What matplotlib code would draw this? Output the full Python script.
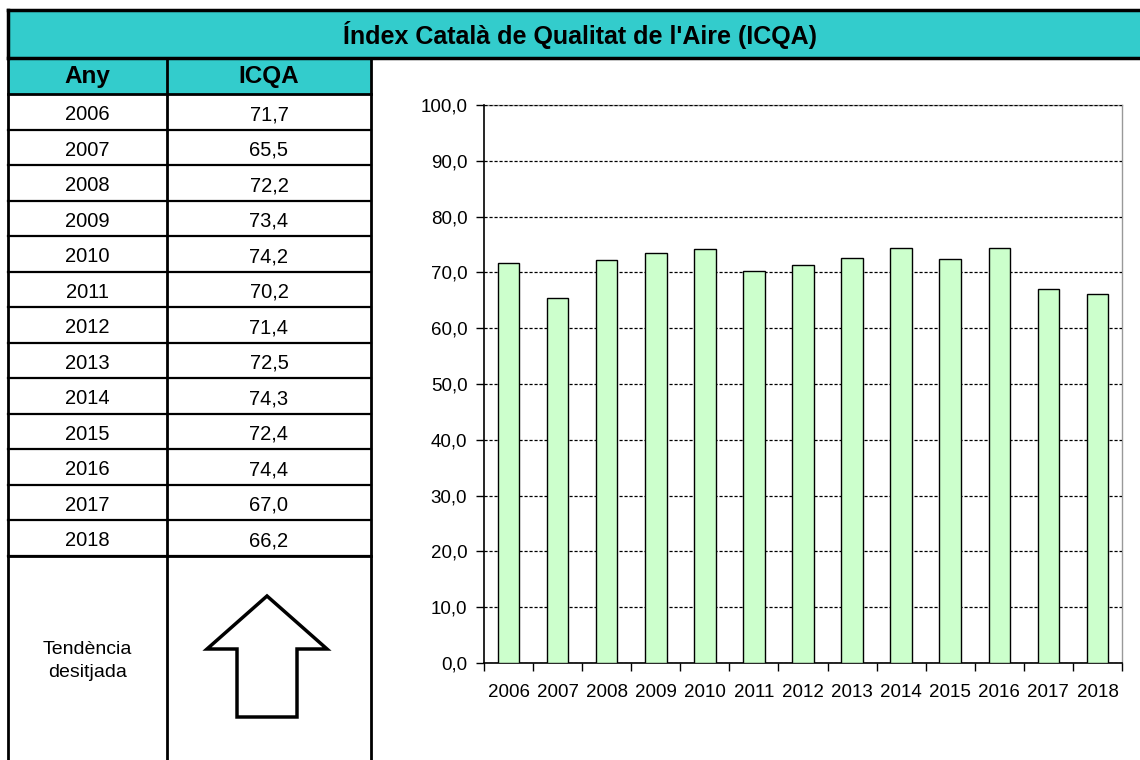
import matplotlib
matplotlib.use("Agg")
from matplotlib import pyplot as plt
from matplotlib.patches import Rectangle, Polygon
from matplotlib.ticker import FuncFormatter, MultipleLocator

plt.rcParams['font.family'] = ['Liberation Sans', 'DejaVu Sans']

anys = [2006, 2007, 2008, 2009, 2010, 2011, 2012, 2013, 2014, 2015, 2016, 2017, 2018]
icqa = [71.7, 65.5, 72.2, 73.4, 74.2, 70.2, 71.4, 72.5, 74.3, 72.4, 74.4, 67.0, 66.2]
titol = "Índex Català de Qualitat de l'Aire (ICQA)"
capcalera = ["Any", "ICQA"]
tendencia = "Tendència\ndesitjada"

W, H = 1140, 760
teal = "#33CCCC"

fig = plt.figure(figsize=(W / 100, H / 100), dpi=100)

# background layer in pixel coordinates for the table part
bg = fig.add_axes([0, 0, 1, 1])
bg.set_xlim(0, W)
bg.set_ylim(H, 0)
bg.axis("off")

def px_line(x0, y0, x1, y1, lw=2.0, color="black"):
    bg.plot([x0, x1], [y0, y1], color=color, lw=lw, solid_capstyle="projecting")

# title bar
bg.add_patch(Rectangle((8, 10), W, 48, facecolor=teal, edgecolor="none"))
px_line(8, 10, W, 10, lw=2.5)
px_line(8, 58, W, 58, lw=2.5)
px_line(8, 10, 8, 58, lw=2.5)
bg.text(580, 35, titol, ha="center", va="center", fontsize=18, fontweight="bold")

# table
c0, c1, c2 = 8, 167, 371
top, row_h = 58, 35.5
bg.add_patch(Rectangle((c0, top), c2 - c0, 36, facecolor=teal, edgecolor="none"))
bg.text((c0 + c1) / 2, top + 19, capcalera[0], ha="center", va="center", fontsize=17.5, fontweight="bold")
bg.text((c1 + c2) / 2, top + 19, capcalera[1], ha="center", va="center", fontsize=17.5, fontweight="bold")

y = top + 36
px_line(c0, y, c2, y)
for a, v in zip(anys, icqa):
    yc = y + row_h / 2
    bg.text((c0 + c1) / 2, yc + 3, str(a), ha="center", va="center", fontsize=14.5)
    bg.text((c1 + c2) / 2, yc + 3, f"{v:.1f}".replace(".", ","), ha="center", va="center", fontsize=14.5)
    y += row_h
    px_line(c0, y, c2, y, lw=1.6)
px_line(c0, y, c2, y, lw=2.0)

for cx in (c0, c1, c2):
    px_line(cx, top, cx, H + 5, lw=2.0)

bg.text((c0 + c1) / 2, 661, tendencia, ha="center", va="center", fontsize=14, linespacing=1.45)

# arrow pointing up
arrow = [(267, 596), (327, 649), (297, 649), (297, 717), (237, 717), (237, 649), (207, 649)]
bg.add_patch(Polygon(arrow, closed=True, facecolor="white", edgecolor="black", lw=2.5, joinstyle="miter"))

# bar chart
L, R, T, B = 484, 1122, 105, 663
ax = fig.add_axes([L / W, (H - B) / H, (R - L) / W, (B - T) / H])
pos = list(range(len(anys)))
ax.bar(pos, icqa, width=0.44, color="#CCFFCC", edgecolor="black", linewidth=1.0, zorder=3)
ax.set_xlim(-0.5, len(anys) - 0.5)
ax.set_ylim(0, 100)
ax.yaxis.set_major_locator(MultipleLocator(10))
ax.yaxis.set_major_formatter(FuncFormatter(lambda v, p: f"{v:.1f}".replace(".", ",")))
ax.grid(axis="y", color="black", linestyle=(0, (2.5, 1.5)), linewidth=0.9, zorder=1)
ax.set_axisbelow(False)
ax.set_xticks(pos)
ax.set_xticklabels([str(a) for a in anys])
ax.set_xticks([p - 0.5 for p in pos] + [len(anys) - 0.5], minor=True)
ax.tick_params(axis="x", which="major", length=0, labelsize=13.5, pad=15)
ax.tick_params(axis="x", which="minor", length=6, width=1.0, direction="out")
ax.tick_params(axis="y", length=6, width=1.0, direction="out", labelsize=13.5, pad=6)
for s in ("top", "right"):
    ax.spines[s].set_color("#999999")
    ax.spines[s].set_linewidth(1.0)
    ax.spines[s].set_zorder(0.5)
ax.spines["left"].set_linewidth(1.2)
ax.spines["bottom"].set_linewidth(1.2)

fig.savefig("out.png", dpi=100)
